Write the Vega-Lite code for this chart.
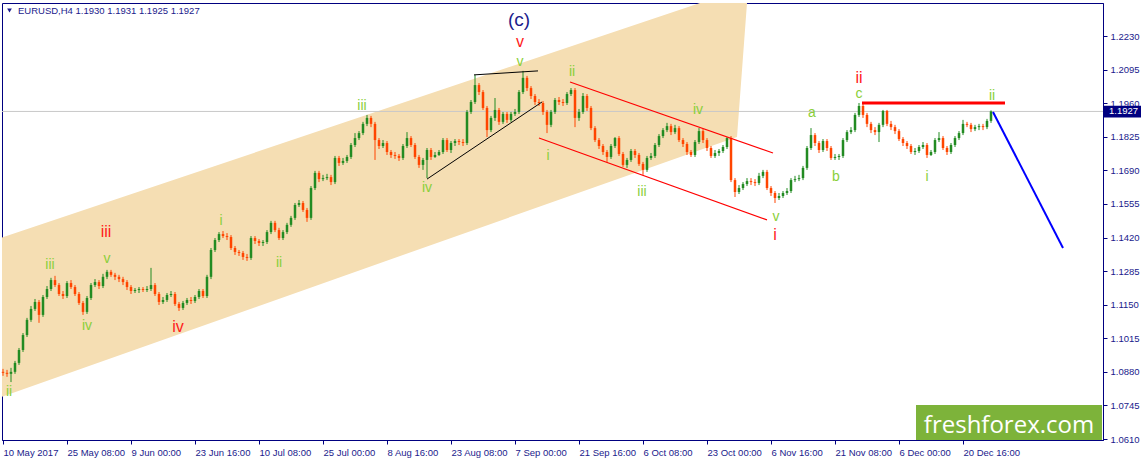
{
  "$schema": "https://vega.github.io/schema/vega-lite/v6.json",
  "description": "EURUSD H4 with Elliott wave counts",
  "width": 1101,
  "height": 437,
  "autosize": {"type": "none"},
  "padding": {"left": 2, "top": 3, "right": 40, "bottom": 22},
  "background": "white",
  "config": {
    "view": {"stroke": "#000080", "strokeWidth": 1},
    "axis": {
      "labelFont": "Liberation Sans",
      "labelFontSize": 9.5,
      "labelColor": "#1a1a8c",
      "domainColor": "#000080",
      "tickColor": "#000080",
      "grid": false,
      "labelOverlap": false,
      "labelFlush": false
    },
    "text": {"font": "Liberation Sans"}
  },
  "datasets": {
    "channel": [
      {"t": 2, "lo": 1.0780, "hi": 1.1420},
      {"t": 700, "lo": 1.1772, "hi": 1.2363},
      {"t": 737, "lo": 1.1824, "hi": 1.2363},
      {"t": 747, "lo": 1.2363, "hi": 1.2363}
    ],
    "candles": [
      {"t":3,"o":1.0880,"h":1.0892,"l":1.0864,"c":1.0876},
      {"t":7,"o":1.0876,"h":1.0888,"l":1.0860,"c":1.0872},
      {"t":11,"o":1.0872,"h":1.0896,"l":1.0839,"c":1.0880},
      {"t":15,"o":1.0880,"h":1.0924,"l":1.0872,"c":1.0916},
      {"t":19,"o":1.0916,"h":1.0976,"l":1.0908,"c":1.0968},
      {"t":23,"o":1.0968,"h":1.1036,"l":1.0960,"c":1.1028},
      {"t":27,"o":1.1028,"h":1.1097,"l":1.1020,"c":1.1089},
      {"t":31,"o":1.1089,"h":1.1145,"l":1.1081,"c":1.1133},
      {"t":35,"o":1.1133,"h":1.1173,"l":1.1125,"c":1.1161},
      {"t":39,"o":1.1161,"h":1.1169,"l":1.1077,"c":1.1109},
      {"t":43,"o":1.1109,"h":1.1189,"l":1.1101,"c":1.1181},
      {"t":47,"o":1.1181,"h":1.1225,"l":1.1173,"c":1.1213},
      {"t":51,"o":1.1213,"h":1.1258,"l":1.1205,"c":1.1249},
      {"t":55,"o":1.1249,"h":1.1266,"l":1.1221,"c":1.1229},
      {"t":59,"o":1.1229,"h":1.1237,"l":1.1185,"c":1.1193},
      {"t":63,"o":1.1193,"h":1.1205,"l":1.1173,"c":1.1185},
      {"t":67,"o":1.1185,"h":1.1245,"l":1.1177,"c":1.1237},
      {"t":71,"o":1.1237,"h":1.1249,"l":1.1213,"c":1.1221},
      {"t":75,"o":1.1221,"h":1.1229,"l":1.1185,"c":1.1193},
      {"t":79,"o":1.1193,"h":1.1201,"l":1.1149,"c":1.1157},
      {"t":83,"o":1.1157,"h":1.1165,"l":1.1109,"c":1.1121},
      {"t":87,"o":1.1121,"h":1.1185,"l":1.1113,"c":1.1177},
      {"t":91,"o":1.1177,"h":1.1237,"l":1.1169,"c":1.1229},
      {"t":95,"o":1.1229,"h":1.1253,"l":1.1221,"c":1.1241},
      {"t":99,"o":1.1241,"h":1.1249,"l":1.1213,"c":1.1225},
      {"t":103,"o":1.1225,"h":1.1274,"l":1.1217,"c":1.1262},
      {"t":107,"o":1.1262,"h":1.1290,"l":1.1253,"c":1.1282},
      {"t":111,"o":1.1282,"h":1.1290,"l":1.1262,"c":1.1270},
      {"t":115,"o":1.1270,"h":1.1278,"l":1.1249,"c":1.1262},
      {"t":119,"o":1.1262,"h":1.1270,"l":1.1241,"c":1.1253},
      {"t":123,"o":1.1253,"h":1.1262,"l":1.1229,"c":1.1241},
      {"t":127,"o":1.1241,"h":1.1249,"l":1.1209,"c":1.1221},
      {"t":131,"o":1.1221,"h":1.1229,"l":1.1193,"c":1.1205},
      {"t":135,"o":1.1205,"h":1.1217,"l":1.1197,"c":1.1209},
      {"t":139,"o":1.1209,"h":1.1221,"l":1.1197,"c":1.1213},
      {"t":143,"o":1.1213,"h":1.1221,"l":1.1201,"c":1.1209},
      {"t":147,"o":1.1209,"h":1.1225,"l":1.1201,"c":1.1213},
      {"t":151,"o":1.1213,"h":1.1298,"l":1.1205,"c":1.1229},
      {"t":155,"o":1.1229,"h":1.1237,"l":1.1185,"c":1.1193},
      {"t":159,"o":1.1193,"h":1.1201,"l":1.1149,"c":1.1161},
      {"t":163,"o":1.1161,"h":1.1181,"l":1.1153,"c":1.1169},
      {"t":167,"o":1.1169,"h":1.1197,"l":1.1161,"c":1.1189},
      {"t":171,"o":1.1189,"h":1.1205,"l":1.1181,"c":1.1193},
      {"t":175,"o":1.1193,"h":1.1201,"l":1.1145,"c":1.1153},
      {"t":179,"o":1.1153,"h":1.1161,"l":1.1125,"c":1.1137},
      {"t":183,"o":1.1137,"h":1.1165,"l":1.1129,"c":1.1157},
      {"t":187,"o":1.1157,"h":1.1177,"l":1.1149,"c":1.1169},
      {"t":191,"o":1.1169,"h":1.1181,"l":1.1153,"c":1.1165},
      {"t":195,"o":1.1165,"h":1.1189,"l":1.1157,"c":1.1181},
      {"t":199,"o":1.1181,"h":1.1213,"l":1.1173,"c":1.1205},
      {"t":203,"o":1.1205,"h":1.1213,"l":1.1177,"c":1.1185},
      {"t":207,"o":1.1185,"h":1.1270,"l":1.1177,"c":1.1262},
      {"t":211,"o":1.1262,"h":1.1378,"l":1.1253,"c":1.1370},
      {"t":215,"o":1.1370,"h":1.1418,"l":1.1362,"c":1.1410},
      {"t":219,"o":1.1410,"h":1.1442,"l":1.1402,"c":1.1434},
      {"t":223,"o":1.1434,"h":1.1446,"l":1.1418,"c":1.1426},
      {"t":227,"o":1.1426,"h":1.1438,"l":1.1410,"c":1.1422},
      {"t":231,"o":1.1422,"h":1.1430,"l":1.1370,"c":1.1378},
      {"t":235,"o":1.1378,"h":1.1386,"l":1.1350,"c":1.1362},
      {"t":239,"o":1.1362,"h":1.1370,"l":1.1346,"c":1.1358},
      {"t":243,"o":1.1358,"h":1.1366,"l":1.1330,"c":1.1342},
      {"t":247,"o":1.1342,"h":1.1354,"l":1.1326,"c":1.1338},
      {"t":251,"o":1.1338,"h":1.1426,"l":1.1330,"c":1.1418},
      {"t":255,"o":1.1418,"h":1.1426,"l":1.1394,"c":1.1406},
      {"t":259,"o":1.1406,"h":1.1414,"l":1.1386,"c":1.1398},
      {"t":263,"o":1.1398,"h":1.1410,"l":1.1386,"c":1.1402},
      {"t":267,"o":1.1402,"h":1.1450,"l":1.1394,"c":1.1442},
      {"t":271,"o":1.1442,"h":1.1487,"l":1.1434,"c":1.1479},
      {"t":275,"o":1.1479,"h":1.1487,"l":1.1442,"c":1.1450},
      {"t":279,"o":1.1450,"h":1.1459,"l":1.1410,"c":1.1418},
      {"t":283,"o":1.1418,"h":1.1450,"l":1.1410,"c":1.1442},
      {"t":287,"o":1.1442,"h":1.1479,"l":1.1434,"c":1.1471},
      {"t":291,"o":1.1471,"h":1.1507,"l":1.1463,"c":1.1499},
      {"t":295,"o":1.1499,"h":1.1559,"l":1.1491,"c":1.1551},
      {"t":299,"o":1.1551,"h":1.1571,"l":1.1543,"c":1.1559},
      {"t":303,"o":1.1559,"h":1.1567,"l":1.1523,"c":1.1531},
      {"t":307,"o":1.1531,"h":1.1539,"l":1.1483,"c":1.1499},
      {"t":311,"o":1.1499,"h":1.1627,"l":1.1491,"c":1.1619},
      {"t":315,"o":1.1619,"h":1.1688,"l":1.1611,"c":1.1680},
      {"t":319,"o":1.1680,"h":1.1688,"l":1.1643,"c":1.1655},
      {"t":323,"o":1.1655,"h":1.1672,"l":1.1647,"c":1.1659},
      {"t":327,"o":1.1659,"h":1.1676,"l":1.1651,"c":1.1663},
      {"t":331,"o":1.1663,"h":1.1672,"l":1.1631,"c":1.1643},
      {"t":335,"o":1.1643,"h":1.1748,"l":1.1635,"c":1.1740},
      {"t":339,"o":1.1740,"h":1.1748,"l":1.1708,"c":1.1720},
      {"t":343,"o":1.1720,"h":1.1740,"l":1.1712,"c":1.1728},
      {"t":347,"o":1.1728,"h":1.1752,"l":1.1720,"c":1.1744},
      {"t":351,"o":1.1744,"h":1.1800,"l":1.1736,"c":1.1792},
      {"t":355,"o":1.1792,"h":1.1840,"l":1.1784,"c":1.1820},
      {"t":359,"o":1.1820,"h":1.1848,"l":1.1812,"c":1.1840},
      {"t":363,"o":1.1840,"h":1.1885,"l":1.1832,"c":1.1877},
      {"t":367,"o":1.1877,"h":1.1913,"l":1.1868,"c":1.1901},
      {"t":371,"o":1.1901,"h":1.1909,"l":1.1864,"c":1.1877},
      {"t":375,"o":1.1877,"h":1.1885,"l":1.1732,"c":1.1812},
      {"t":379,"o":1.1812,"h":1.1820,"l":1.1776,"c":1.1788},
      {"t":383,"o":1.1788,"h":1.1812,"l":1.1780,"c":1.1800},
      {"t":387,"o":1.1800,"h":1.1808,"l":1.1752,"c":1.1764},
      {"t":391,"o":1.1764,"h":1.1772,"l":1.1740,"c":1.1752},
      {"t":395,"o":1.1752,"h":1.1764,"l":1.1736,"c":1.1748},
      {"t":399,"o":1.1748,"h":1.1756,"l":1.1728,"c":1.1740},
      {"t":403,"o":1.1740,"h":1.1796,"l":1.1732,"c":1.1788},
      {"t":407,"o":1.1788,"h":1.1844,"l":1.1780,"c":1.1820},
      {"t":411,"o":1.1820,"h":1.1828,"l":1.1784,"c":1.1792},
      {"t":415,"o":1.1792,"h":1.1800,"l":1.1736,"c":1.1744},
      {"t":419,"o":1.1744,"h":1.1752,"l":1.1700,"c":1.1712},
      {"t":423,"o":1.1712,"h":1.1740,"l":1.1692,"c":1.1732},
      {"t":427,"o":1.1732,"h":1.1780,"l":1.1659,"c":1.1772},
      {"t":431,"o":1.1772,"h":1.1780,"l":1.1732,"c":1.1744},
      {"t":435,"o":1.1744,"h":1.1764,"l":1.1740,"c":1.1752},
      {"t":439,"o":1.1752,"h":1.1772,"l":1.1748,"c":1.1764},
      {"t":443,"o":1.1764,"h":1.1820,"l":1.1756,"c":1.1812},
      {"t":447,"o":1.1812,"h":1.1820,"l":1.1764,"c":1.1772},
      {"t":451,"o":1.1772,"h":1.1808,"l":1.1760,"c":1.1800},
      {"t":455,"o":1.1800,"h":1.1816,"l":1.1788,"c":1.1808},
      {"t":459,"o":1.1808,"h":1.1816,"l":1.1792,"c":1.1804},
      {"t":463,"o":1.1804,"h":1.1816,"l":1.1788,"c":1.1800},
      {"t":467,"o":1.1800,"h":1.1933,"l":1.1792,"c":1.1925},
      {"t":471,"o":1.1925,"h":1.1973,"l":1.1917,"c":1.1965},
      {"t":475,"o":1.1965,"h":1.2074,"l":1.1957,"c":1.2033},
      {"t":479,"o":1.2033,"h":1.2041,"l":1.1993,"c":1.2005},
      {"t":483,"o":1.2005,"h":1.2013,"l":1.1933,"c":1.1941},
      {"t":487,"o":1.1941,"h":1.1949,"l":1.1824,"c":1.1852},
      {"t":491,"o":1.1852,"h":1.1909,"l":1.1844,"c":1.1901},
      {"t":495,"o":1.1901,"h":1.1981,"l":1.1889,"c":1.1933},
      {"t":499,"o":1.1933,"h":1.1941,"l":1.1873,"c":1.1885},
      {"t":503,"o":1.1885,"h":1.1925,"l":1.1877,"c":1.1917},
      {"t":507,"o":1.1917,"h":1.1925,"l":1.1881,"c":1.1893},
      {"t":511,"o":1.1893,"h":1.1925,"l":1.1885,"c":1.1917},
      {"t":515,"o":1.1917,"h":1.1937,"l":1.1909,"c":1.1925},
      {"t":519,"o":1.1925,"h":1.2013,"l":1.1917,"c":1.2005},
      {"t":523,"o":1.2005,"h":1.2090,"l":1.1997,"c":1.2062},
      {"t":527,"o":1.2062,"h":1.2070,"l":1.2009,"c":1.2021},
      {"t":531,"o":1.2021,"h":1.2029,"l":1.1977,"c":1.1989},
      {"t":535,"o":1.1989,"h":1.1997,"l":1.1953,"c":1.1965},
      {"t":539,"o":1.1965,"h":1.1977,"l":1.1949,"c":1.1961},
      {"t":543,"o":1.1961,"h":1.1969,"l":1.1913,"c":1.1925},
      {"t":547,"o":1.1925,"h":1.1933,"l":1.1840,"c":1.1873},
      {"t":551,"o":1.1873,"h":1.1933,"l":1.1864,"c":1.1925},
      {"t":555,"o":1.1925,"h":1.1981,"l":1.1917,"c":1.1973},
      {"t":559,"o":1.1973,"h":1.1985,"l":1.1953,"c":1.1965},
      {"t":563,"o":1.1965,"h":1.1977,"l":1.1949,"c":1.1961},
      {"t":567,"o":1.1961,"h":1.2005,"l":1.1953,"c":1.1997},
      {"t":571,"o":1.1997,"h":1.2021,"l":1.1989,"c":1.2013},
      {"t":575,"o":1.2013,"h":1.2021,"l":1.1864,"c":1.1901},
      {"t":579,"o":1.1901,"h":1.1937,"l":1.1889,"c":1.1925},
      {"t":583,"o":1.1925,"h":1.2001,"l":1.1917,"c":1.1989},
      {"t":587,"o":1.1989,"h":1.1997,"l":1.1929,"c":1.1941},
      {"t":591,"o":1.1941,"h":1.1949,"l":1.1852,"c":1.1860},
      {"t":595,"o":1.1860,"h":1.1868,"l":1.1804,"c":1.1812},
      {"t":599,"o":1.1812,"h":1.1820,"l":1.1776,"c":1.1788},
      {"t":603,"o":1.1788,"h":1.1796,"l":1.1752,"c":1.1764},
      {"t":607,"o":1.1764,"h":1.1772,"l":1.1724,"c":1.1744},
      {"t":611,"o":1.1744,"h":1.1796,"l":1.1736,"c":1.1788},
      {"t":615,"o":1.1788,"h":1.1824,"l":1.1780,"c":1.1820},
      {"t":619,"o":1.1820,"h":1.1828,"l":1.1748,"c":1.1756},
      {"t":623,"o":1.1756,"h":1.1764,"l":1.1704,"c":1.1712},
      {"t":627,"o":1.1712,"h":1.1740,"l":1.1700,"c":1.1732},
      {"t":631,"o":1.1732,"h":1.1776,"l":1.1724,"c":1.1768},
      {"t":635,"o":1.1768,"h":1.1776,"l":1.1740,"c":1.1752},
      {"t":639,"o":1.1752,"h":1.1760,"l":1.1708,"c":1.1716},
      {"t":643,"o":1.1716,"h":1.1724,"l":1.1672,"c":1.1692},
      {"t":647,"o":1.1692,"h":1.1748,"l":1.1684,"c":1.1740},
      {"t":651,"o":1.1740,"h":1.1760,"l":1.1732,"c":1.1748},
      {"t":655,"o":1.1748,"h":1.1800,"l":1.1740,"c":1.1792},
      {"t":659,"o":1.1792,"h":1.1836,"l":1.1784,"c":1.1828},
      {"t":663,"o":1.1828,"h":1.1860,"l":1.1820,"c":1.1852},
      {"t":667,"o":1.1852,"h":1.1881,"l":1.1844,"c":1.1868},
      {"t":671,"o":1.1868,"h":1.1877,"l":1.1832,"c":1.1844},
      {"t":675,"o":1.1844,"h":1.1873,"l":1.1836,"c":1.1860},
      {"t":679,"o":1.1860,"h":1.1868,"l":1.1804,"c":1.1812},
      {"t":683,"o":1.1812,"h":1.1820,"l":1.1784,"c":1.1796},
      {"t":687,"o":1.1796,"h":1.1804,"l":1.1752,"c":1.1764},
      {"t":691,"o":1.1764,"h":1.1772,"l":1.1744,"c":1.1752},
      {"t":695,"o":1.1752,"h":1.1812,"l":1.1744,"c":1.1804},
      {"t":699,"o":1.1804,"h":1.1860,"l":1.1796,"c":1.1848},
      {"t":703,"o":1.1848,"h":1.1856,"l":1.1800,"c":1.1812},
      {"t":707,"o":1.1812,"h":1.1820,"l":1.1768,"c":1.1780},
      {"t":711,"o":1.1780,"h":1.1788,"l":1.1740,"c":1.1748},
      {"t":715,"o":1.1748,"h":1.1772,"l":1.1740,"c":1.1760},
      {"t":719,"o":1.1760,"h":1.1776,"l":1.1748,"c":1.1768},
      {"t":723,"o":1.1768,"h":1.1792,"l":1.1760,"c":1.1784},
      {"t":727,"o":1.1784,"h":1.1824,"l":1.1776,"c":1.1820},
      {"t":731,"o":1.1820,"h":1.1828,"l":1.1643,"c":1.1651},
      {"t":735,"o":1.1651,"h":1.1659,"l":1.1583,"c":1.1603},
      {"t":739,"o":1.1603,"h":1.1631,"l":1.1595,"c":1.1619},
      {"t":743,"o":1.1619,"h":1.1643,"l":1.1611,"c":1.1635},
      {"t":747,"o":1.1635,"h":1.1659,"l":1.1627,"c":1.1647},
      {"t":751,"o":1.1647,"h":1.1659,"l":1.1631,"c":1.1643},
      {"t":755,"o":1.1643,"h":1.1655,"l":1.1627,"c":1.1639},
      {"t":759,"o":1.1639,"h":1.1680,"l":1.1631,"c":1.1668},
      {"t":763,"o":1.1668,"h":1.1692,"l":1.1659,"c":1.1684},
      {"t":767,"o":1.1684,"h":1.1692,"l":1.1611,"c":1.1619},
      {"t":771,"o":1.1619,"h":1.1627,"l":1.1587,"c":1.1599},
      {"t":775,"o":1.1599,"h":1.1607,"l":1.1559,"c":1.1579},
      {"t":779,"o":1.1579,"h":1.1599,"l":1.1571,"c":1.1587},
      {"t":783,"o":1.1587,"h":1.1607,"l":1.1579,"c":1.1599},
      {"t":787,"o":1.1599,"h":1.1619,"l":1.1591,"c":1.1607},
      {"t":791,"o":1.1607,"h":1.1659,"l":1.1599,"c":1.1651},
      {"t":795,"o":1.1651,"h":1.1668,"l":1.1643,"c":1.1655},
      {"t":799,"o":1.1655,"h":1.1672,"l":1.1647,"c":1.1659},
      {"t":803,"o":1.1659,"h":1.1708,"l":1.1651,"c":1.1700},
      {"t":807,"o":1.1700,"h":1.1788,"l":1.1692,"c":1.1780},
      {"t":811,"o":1.1780,"h":1.1860,"l":1.1772,"c":1.1832},
      {"t":815,"o":1.1832,"h":1.1840,"l":1.1788,"c":1.1800},
      {"t":819,"o":1.1800,"h":1.1808,"l":1.1760,"c":1.1772},
      {"t":823,"o":1.1772,"h":1.1816,"l":1.1764,"c":1.1808},
      {"t":827,"o":1.1808,"h":1.1816,"l":1.1768,"c":1.1780},
      {"t":831,"o":1.1780,"h":1.1788,"l":1.1732,"c":1.1740},
      {"t":835,"o":1.1740,"h":1.1756,"l":1.1732,"c":1.1744},
      {"t":839,"o":1.1744,"h":1.1756,"l":1.1732,"c":1.1748},
      {"t":843,"o":1.1748,"h":1.1820,"l":1.1740,"c":1.1812},
      {"t":847,"o":1.1812,"h":1.1852,"l":1.1804,"c":1.1844},
      {"t":851,"o":1.1844,"h":1.1864,"l":1.1836,"c":1.1852},
      {"t":855,"o":1.1852,"h":1.1921,"l":1.1844,"c":1.1913},
      {"t":859,"o":1.1913,"h":1.1961,"l":1.1905,"c":1.1949},
      {"t":863,"o":1.1949,"h":1.1957,"l":1.1901,"c":1.1913},
      {"t":867,"o":1.1913,"h":1.1921,"l":1.1864,"c":1.1877},
      {"t":871,"o":1.1877,"h":1.1885,"l":1.1840,"c":1.1852},
      {"t":875,"o":1.1852,"h":1.1864,"l":1.1832,"c":1.1844},
      {"t":879,"o":1.1844,"h":1.1881,"l":1.1804,"c":1.1873},
      {"t":883,"o":1.1873,"h":1.1933,"l":1.1864,"c":1.1929},
      {"t":887,"o":1.1929,"h":1.1933,"l":1.1868,"c":1.1877},
      {"t":891,"o":1.1877,"h":1.1889,"l":1.1852,"c":1.1864},
      {"t":895,"o":1.1864,"h":1.1873,"l":1.1836,"c":1.1848},
      {"t":899,"o":1.1848,"h":1.1856,"l":1.1808,"c":1.1816},
      {"t":903,"o":1.1816,"h":1.1824,"l":1.1788,"c":1.1800},
      {"t":907,"o":1.1800,"h":1.1808,"l":1.1776,"c":1.1788},
      {"t":911,"o":1.1788,"h":1.1796,"l":1.1756,"c":1.1764},
      {"t":915,"o":1.1764,"h":1.1780,"l":1.1752,"c":1.1768},
      {"t":919,"o":1.1768,"h":1.1792,"l":1.1760,"c":1.1784},
      {"t":923,"o":1.1784,"h":1.1804,"l":1.1776,"c":1.1792},
      {"t":927,"o":1.1792,"h":1.1800,"l":1.1740,"c":1.1752},
      {"t":931,"o":1.1752,"h":1.1772,"l":1.1748,"c":1.1764},
      {"t":935,"o":1.1764,"h":1.1820,"l":1.1756,"c":1.1812},
      {"t":939,"o":1.1812,"h":1.1844,"l":1.1804,"c":1.1820},
      {"t":943,"o":1.1820,"h":1.1828,"l":1.1772,"c":1.1780},
      {"t":947,"o":1.1780,"h":1.1788,"l":1.1752,"c":1.1764},
      {"t":951,"o":1.1764,"h":1.1800,"l":1.1756,"c":1.1792},
      {"t":955,"o":1.1792,"h":1.1828,"l":1.1784,"c":1.1820},
      {"t":959,"o":1.1820,"h":1.1848,"l":1.1812,"c":1.1840},
      {"t":963,"o":1.1840,"h":1.1893,"l":1.1832,"c":1.1877},
      {"t":967,"o":1.1877,"h":1.1885,"l":1.1864,"c":1.1873},
      {"t":971,"o":1.1873,"h":1.1881,"l":1.1844,"c":1.1856},
      {"t":975,"o":1.1856,"h":1.1873,"l":1.1848,"c":1.1864},
      {"t":979,"o":1.1864,"h":1.1877,"l":1.1852,"c":1.1868},
      {"t":983,"o":1.1868,"h":1.1877,"l":1.1852,"c":1.1864},
      {"t":987,"o":1.1864,"h":1.1897,"l":1.1856,"c":1.1889},
      {"t":991,"o":1.1889,"h":1.1931,"l":1.1881,"c":1.1927}
    ],
    "lines": [
      {"id": "top", "t": 474, "p": 1.2074},
      {"id": "top", "t": 538, "p": 1.2090},
      {"id": "trend", "t": 427, "p": 1.1655},
      {"id": "trend", "t": 542, "p": 1.1965},
      {"id": "chanUp", "t": 570, "p": 1.2045},
      {"id": "chanUp", "t": 773, "p": 1.1760},
      {"id": "chanLo", "t": 539, "p": 1.1820},
      {"id": "chanLo", "t": 767, "p": 1.1491},
      {"id": "res", "t": 862, "p": 1.1961},
      {"id": "res", "t": 1005, "p": 1.1961},
      {"id": "proj", "t": 993, "p": 1.1925},
      {"id": "proj", "t": 1063, "p": 1.1378}
    ],
    "labels": [
      {"t": 9, "p": 1.0799, "text": "ii", "degree": "minor"},
      {"t": 50, "p": 1.1310, "text": "iii", "degree": "minor"},
      {"t": 106, "p": 1.1442, "text": "iii", "degree": "major"},
      {"t": 107, "p": 1.1334, "text": "v", "degree": "minor"},
      {"t": 87, "p": 1.1064, "text": "iv", "degree": "minor"},
      {"t": 178, "p": 1.1060, "text": "iv", "degree": "major"},
      {"t": 221, "p": 1.1487, "text": "i", "degree": "minor"},
      {"t": 279, "p": 1.1318, "text": "ii", "degree": "minor"},
      {"t": 362, "p": 1.1949, "text": "iii", "degree": "minor"},
      {"t": 427, "p": 1.1619, "text": "iv", "degree": "minor"},
      {"t": 520, "p": 1.2126, "text": "v", "degree": "minor"},
      {"t": 520, "p": 1.2206, "text": "v", "degree": "major"},
      {"t": 519, "p": 1.2295, "text": "(c)", "degree": "cycle"},
      {"t": 548, "p": 1.1748, "text": "i", "degree": "minor"},
      {"t": 572, "p": 1.2086, "text": "ii", "degree": "minor"},
      {"t": 642, "p": 1.1603, "text": "iii", "degree": "minor"},
      {"t": 698, "p": 1.1933, "text": "iv", "degree": "minor"},
      {"t": 776, "p": 1.1503, "text": "v", "degree": "minor"},
      {"t": 775, "p": 1.1430, "text": "i", "degree": "major"},
      {"t": 812, "p": 1.1921, "text": "a", "degree": "minor"},
      {"t": 836, "p": 1.1663, "text": "b", "degree": "minor"},
      {"t": 859, "p": 1.1997, "text": "c", "degree": "minor"},
      {"t": 859, "p": 1.2062, "text": "ii", "degree": "major"},
      {"t": 927, "p": 1.1663, "text": "i", "degree": "minor"},
      {"t": 992, "p": 1.1989, "text": "ii", "degree": "minor"}
    ]
  },
  "layer": [
    {
      "data": {"name": "channel"},
      "mark": {"type": "area", "color": "#F5DEB3", "opacity": 1},
      "encoding": {
        "x": {
          "field": "t", "type": "quantitative",
          "scale": {"domain": [2, 1103], "nice": false, "zero": false},
          "axis": {
            "title": null,
            "orient": "bottom",
            "values": [3, 67, 131, 195, 259, 323, 387, 451, 515, 579, 643, 707, 771, 835, 899, 963],
            "tickCount": 40,
            "labelExpr": "['10 May 2017','25 May 08:00','9 Jun 00:00','23 Jun 16:00','10 Jul 08:00','25 Jul 00:00','8 Aug 16:00','23 Aug 08:00','7 Sep 00:00','21 Sep 16:00','6 Oct 08:00','23 Oct 00:00','6 Nov 16:00','21 Nov 08:00','6 Dec 00:00','20 Dec 16:00'][round((datum.value - 3) / 64)]",
            "labelAlign": "left",
            "labelBaseline": "top",
            "labelPadding": 3,
            "labelFlush": false,
            "labelOverlap": false,
            "tickSize": 4
          }
        },
        "y": {
          "field": "lo", "type": "quantitative",
          "scale": {"domain": [1.0606, 1.2363], "nice": false, "zero": false},
          "axis": {
            "title": null,
            "orient": "right",
            "values": [1.061, 1.0745, 1.088, 1.1015, 1.115, 1.1285, 1.142, 1.1555, 1.169, 1.1825, 1.196, 1.2095, 1.223],
            "tickCount": 30,
            "format": ".4f",
            "labelPadding": 3,
            "labelFlush": false,
            "labelOverlap": false,
            "tickSize": 4
          }
        },
        "y2": {"field": "hi"}
      }
    },
    {
      "data": {"values": [{}]},
      "mark": {"type": "rule", "color": "#C8C8C8", "strokeWidth": 1},
      "encoding": {
        "y": {"datum": 1.1927, "type": "quantitative", "scale": {"domain": [1.0606, 1.2363], "nice": false, "zero": false}, "axis": {"title": null}}
      }
    },
    {
      "data": {"name": "candles"},
      "mark": {"type": "rule", "strokeWidth": 1},
      "encoding": {
        "x": {"field": "t", "type": "quantitative", "scale": {"domain": [2, 1103], "nice": false, "zero": false}, "axis": {"title": null}},
        "y": {"field": "l", "type": "quantitative", "scale": {"domain": [1.0606, 1.2363], "nice": false, "zero": false}, "axis": {"title": null}},
        "y2": {"field": "h"},
        "color": {"condition": {"test": "datum.c >= datum.o", "value": "#228B22"}, "value": "#FF4500"}
      }
    },
    {
      "data": {"name": "candles"},
      "mark": {"type": "rule", "strokeWidth": 2.5},
      "encoding": {
        "x": {"field": "t", "type": "quantitative", "scale": {"domain": [2, 1103], "nice": false, "zero": false}, "axis": {"title": null}},
        "y": {"field": "o", "type": "quantitative", "scale": {"domain": [1.0606, 1.2363], "nice": false, "zero": false}, "axis": {"title": null}},
        "y2": {"field": "c"},
        "color": {"condition": {"test": "datum.c >= datum.o", "value": "#228B22"}, "value": "#FF4500"}
      }
    },
    {
      "data": {"name": "lines"},
      "transform": [{"filter": "datum.id == 'top' || datum.id == 'trend'"}],
      "mark": {"type": "line", "color": "#000000", "strokeWidth": 1},
      "encoding": {
        "x": {"field": "t", "type": "quantitative", "scale": {"domain": [2, 1103], "nice": false, "zero": false}, "axis": {"title": null}},
        "y": {"field": "p", "type": "quantitative", "scale": {"domain": [1.0606, 1.2363], "nice": false, "zero": false}, "axis": {"title": null}},
        "detail": {"field": "id"}
      }
    },
    {
      "data": {"name": "lines"},
      "transform": [{"filter": "datum.id == 'chanUp' || datum.id == 'chanLo'"}],
      "mark": {"type": "line", "color": "#FF0000", "strokeWidth": 1.1},
      "encoding": {
        "x": {"field": "t", "type": "quantitative", "scale": {"domain": [2, 1103], "nice": false, "zero": false}, "axis": {"title": null}},
        "y": {"field": "p", "type": "quantitative", "scale": {"domain": [1.0606, 1.2363], "nice": false, "zero": false}, "axis": {"title": null}},
        "detail": {"field": "id"}
      }
    },
    {
      "data": {"name": "lines"},
      "transform": [{"filter": "datum.id == 'res'"}],
      "mark": {"type": "line", "color": "#FF0000", "strokeWidth": 3},
      "encoding": {
        "x": {"field": "t", "type": "quantitative", "scale": {"domain": [2, 1103], "nice": false, "zero": false}, "axis": {"title": null}},
        "y": {"field": "p", "type": "quantitative", "scale": {"domain": [1.0606, 1.2363], "nice": false, "zero": false}, "axis": {"title": null}}
      }
    },
    {
      "data": {"name": "lines"},
      "transform": [{"filter": "datum.id == 'proj'"}],
      "mark": {"type": "line", "color": "#0000FF", "strokeWidth": 2},
      "encoding": {
        "x": {"field": "t", "type": "quantitative", "scale": {"domain": [2, 1103], "nice": false, "zero": false}, "axis": {"title": null}},
        "y": {"field": "p", "type": "quantitative", "scale": {"domain": [1.0606, 1.2363], "nice": false, "zero": false}, "axis": {"title": null}}
      }
    },
    {
      "data": {"name": "labels"},
      "transform": [{"filter": "datum.degree == 'minor'"}],
      "mark": {"type": "text", "fontSize": 14, "color": "#8ACF3A", "align": "center", "baseline": "middle"},
      "encoding": {
        "x": {"field": "t", "type": "quantitative", "scale": {"domain": [2, 1103], "nice": false, "zero": false}, "axis": {"title": null}},
        "y": {"field": "p", "type": "quantitative", "scale": {"domain": [1.0606, 1.2363], "nice": false, "zero": false}, "axis": {"title": null}},
        "text": {"field": "text"}
      }
    },
    {
      "data": {"name": "labels"},
      "transform": [{"filter": "datum.degree == 'major'"}],
      "mark": {"type": "text", "fontSize": 16, "color": "#FF1A1A", "align": "center", "baseline": "middle"},
      "encoding": {
        "x": {"field": "t", "type": "quantitative", "scale": {"domain": [2, 1103], "nice": false, "zero": false}, "axis": {"title": null}},
        "y": {"field": "p", "type": "quantitative", "scale": {"domain": [1.0606, 1.2363], "nice": false, "zero": false}, "axis": {"title": null}},
        "text": {"field": "text"}
      }
    },
    {
      "data": {"name": "labels"},
      "transform": [{"filter": "datum.degree == 'cycle'"}],
      "mark": {"type": "text", "fontSize": 19, "color": "#1C1C8C", "align": "center", "baseline": "middle"},
      "encoding": {
        "x": {"field": "t", "type": "quantitative", "scale": {"domain": [2, 1103], "nice": false, "zero": false}, "axis": {"title": null}},
        "y": {"field": "p", "type": "quantitative", "scale": {"domain": [1.0606, 1.2363], "nice": false, "zero": false}, "axis": {"title": null}},
        "text": {"field": "text"}
      }
    },
    {
      "data": {"values": [{}]},
      "mark": {"type": "rect", "color": "#7DB33A", "clip": false},
      "encoding": {
        "x": {"datum": 916, "type": "quantitative", "scale": {"domain": [2, 1103], "nice": false, "zero": false}, "axis": {"title": null}},
        "x2": {"datum": 1102},
        "y": {"datum": 1.0606, "type": "quantitative", "scale": {"domain": [1.0606, 1.2363], "nice": false, "zero": false}, "axis": {"title": null}},
        "y2": {"datum": 1.0747}
      }
    },
    {
      "data": {"values": [{}]},
      "mark": {"type": "text", "text": "freshforex.com", "font": "Open Sans", "fontSize": 24, "color": "#FFFFFF", "align": "center", "baseline": "alphabetic"},
      "encoding": {
        "x": {"datum": 1009, "type": "quantitative", "scale": {"domain": [2, 1103], "nice": false, "zero": false}, "axis": {"title": null}},
        "y": {"datum": 1.0634, "type": "quantitative", "scale": {"domain": [1.0606, 1.2363], "nice": false, "zero": false}, "axis": {"title": null}}
      }
    },
    {
      "data": {"values": [{}]},
      "mark": {"type": "rect", "color": "#000080", "clip": false},
      "encoding": {
        "x": {"datum": 1103, "type": "quantitative", "scale": {"domain": [2, 1103], "nice": false, "zero": false}, "axis": {"title": null}},
        "x2": {"datum": 1141},
        "y": {"datum": 1.1950, "type": "quantitative", "scale": {"domain": [1.0606, 1.2363], "nice": false, "zero": false}, "axis": {"title": null}},
        "y2": {"datum": 1.1903}
      }
    },
    {
      "data": {"values": [{}]},
      "mark": {"type": "text", "text": "1.1927", "fontSize": 9.5, "color": "#FFFFFF", "align": "left", "baseline": "middle", "clip": false},
      "encoding": {
        "x": {"datum": 1109, "type": "quantitative", "scale": {"domain": [2, 1103], "nice": false, "zero": false}, "axis": {"title": null}},
        "y": {"datum": 1.1927, "type": "quantitative", "scale": {"domain": [1.0606, 1.2363], "nice": false, "zero": false}, "axis": {"title": null}}
      }
    },
    {
      "data": {"values": [{}]},
      "mark": {"type": "text", "text": "EURUSD,H4  1.1930 1.1931 1.1925 1.1927", "fontSize": 9.5, "color": "#1a1a8c", "align": "left", "baseline": "middle"},
      "encoding": {
        "x": {"datum": 18, "type": "quantitative", "scale": {"domain": [2, 1103], "nice": false, "zero": false}, "axis": {"title": null}},
        "y": {"datum": 1.2331, "type": "quantitative", "scale": {"domain": [1.0606, 1.2363], "nice": false, "zero": false}, "axis": {"title": null}}
      }
    },
    {
      "data": {"values": [{}]},
      "mark": {"type": "point", "shape": "triangle-down", "filled": true, "size": 22, "color": "#1a1a8c", "opacity": 1},
      "encoding": {
        "x": {"datum": 9.5, "type": "quantitative", "scale": {"domain": [2, 1103], "nice": false, "zero": false}, "axis": {"title": null}},
        "y": {"datum": 1.2333, "type": "quantitative", "scale": {"domain": [1.0606, 1.2363], "nice": false, "zero": false}, "axis": {"title": null}}
      }
    }
  ]
}
